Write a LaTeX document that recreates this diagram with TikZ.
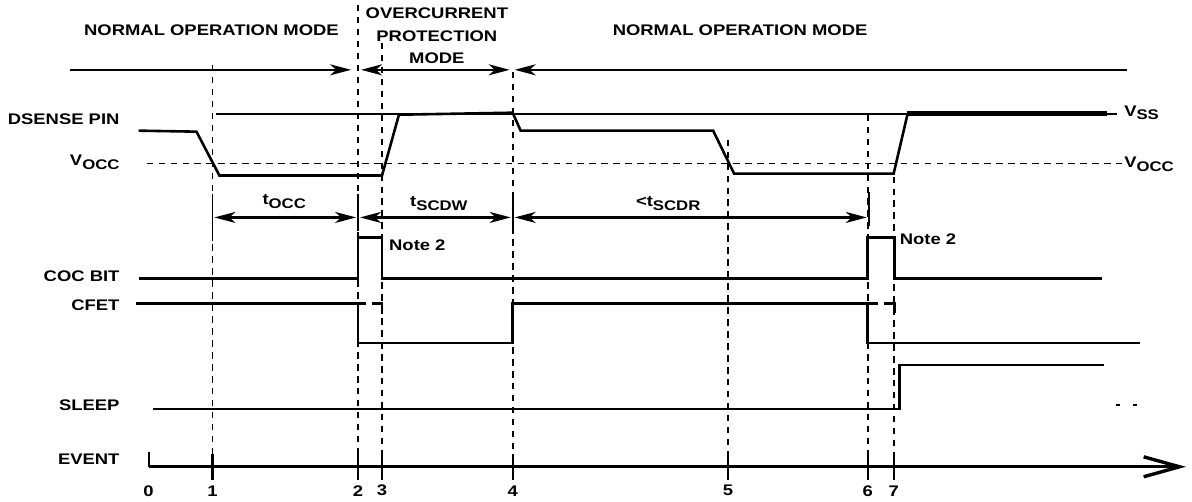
\documentclass[tikz,border=0pt]{standalone}
\usepackage{fontspec}
\setmainfont{Liberation Sans}[FakeStretch=1.2]
\usepackage{tikz}
\usetikzlibrary{arrows.meta}

\newcommand{\lent}[1]{\raisebox{-0.45ex}{\fontsize{14}{14}\selectfont #1}}
\tikzset{hegy/.tip={Stealth[length=21pt,width=11pt,inset=6pt]}}

\begin{document}
\begin{tikzpicture}[x=1pt,y=-1pt,
  font=\bfseries\fontsize{15.4}{22.5}\selectfont, inner sep=1pt,
  jel/.style={line width=2.6pt},
  szagg/.style={line width=1.8pt,dash pattern=on 6.5pt off 5.5pt},
  nyil/.style={line width=2.3pt},
  cimke/.style={anchor=east}]
				\fill[white] (0,0) rectangle (1192,503);
				
				% uzemmodok
				\node (nom1) at (212,30) {NORMAL OPERATION MODE};
				\node[align=center] (ocp) at (438,36) {OVERCURRENT\\PROTECTION\\MODE};
				\node (nom2) at (742,30) {NORMAL OPERATION MODE};
				\draw[nyil,-{hegy}] (70,70) -- (352,70);
				\draw[nyil,{hegy}-{hegy}] (362,70) -- (511,70);
				\draw[nyil,{hegy}-] (516,70) -- (1130,70);
				
				% szaggatott idovonalak
				\foreach \x/\t in {213/65, 359/5, 383/43, 514/72, 730/140, 870/115, 896/177}
				  \draw[szagg] (\x,\t) -- (\x,455);
				
				% jelnevek
				\node[cimke] (dsense) at (121,120) {DSENSE PIN};
				\node[cimke] (vocc1) at (121,163) {V\lent{OCC}};
				\node[cimke] (coc) at (121,277) {COC BIT};
				\node[cimke] (cfet) at (121,306) {CFET};
				\node[cimke] (sleep) at (121,406) {SLEEP};
				\node[cimke] (event) at (121,460) {EVENT};
				\node[anchor=west] (vss) at (1126,113) {V\lent{SS}};
				\node[anchor=west] (vocc2) at (1126,165) {V\lent{OCC}};
				
				% DSENSE
				\draw[line width=1.8pt] (217,114) -- (1120,114);
				\draw[szagg] (147,164) -- (1125,164);
				\draw[jel] (139,131) -- (197,132) -- (220,176) -- (383,176) -- (400,115)
				  -- (514,113) -- (522,131) -- (715,131) -- (736,174) -- (896,174) -- (910,114);
				\draw[line width=4.5pt] (909,114) -- (1110,114);
				
				% idotartamok
				\foreach \x/\a/\b in {213/195/242, 359/195/232, 514/193/232, 871/193/227}
				  \draw[line width=1.8pt] (\x,\a) -- (\x,\b);
				\draw[nyil,{hegy}-{hegy}] (215,218) -- (357,218);
				\draw[nyil,{hegy}-{hegy}] (361,218) -- (512,218);
				\draw[nyil,{hegy}-{hegy}] (516,218) -- (869,218);
				\node (tocc) at (285,202) {t\lent{OCC}};
				\node (tscdw) at (440,204) {t\lent{SCDW}};
				\node (tscdr) at (670,204) {<t\lent{SCDR}};
				
				% COC BIT
				\draw[jel] (139,279) -- (359,279) -- (359,238) -- (383,238) -- (383,279)
				  -- (870,279) -- (870,238) -- (897,238) -- (897,279) -- (1105,279);
				\node[anchor=west] (note1) at (389,246) {Note 2};
				\node[anchor=west] (note2) at (901,240) {Note 2};
				
				% CFET
				\draw[jel] (136,304) -- (367,304);
				\draw[jel] (359,304) -- (359,344) -- (514,344) -- (514,304) -- (880,304);
				\draw[jel] (870,304) -- (870,344) -- (1143,344);
				\draw[jel] (373,304) -- (383,304) -- (383,315);
				\draw[jel] (886,304) -- (897,304) -- (897,314);
				
				% SLEEP
				\draw[jel] (153,410) -- (902,410) -- (902,366) -- (1107,366);
				\draw[jel] (1119,406) -- (1123,406);
				\draw[jel] (1136,406) -- (1140,406);
				
				% EVENT tengely
				\draw[line width=3.4pt,-{Straight Barb[length=36pt,width=20pt]}] (149,468) -- (1189,468);
				\draw[line width=2.2pt] (149,453) -- (149,468);
				\node (e0) at (149,492) {0};
				\foreach \x/\n in {213/1, 359/2, 383/3, 514/4, 730/5, 870/6, 896/7} {
				  \draw[line width=2.2pt] (\x,455) -- (\x,481);
				  \node (e\n) at (\x,492) {\n};
				}
				
\end{tikzpicture}
\end{document}
